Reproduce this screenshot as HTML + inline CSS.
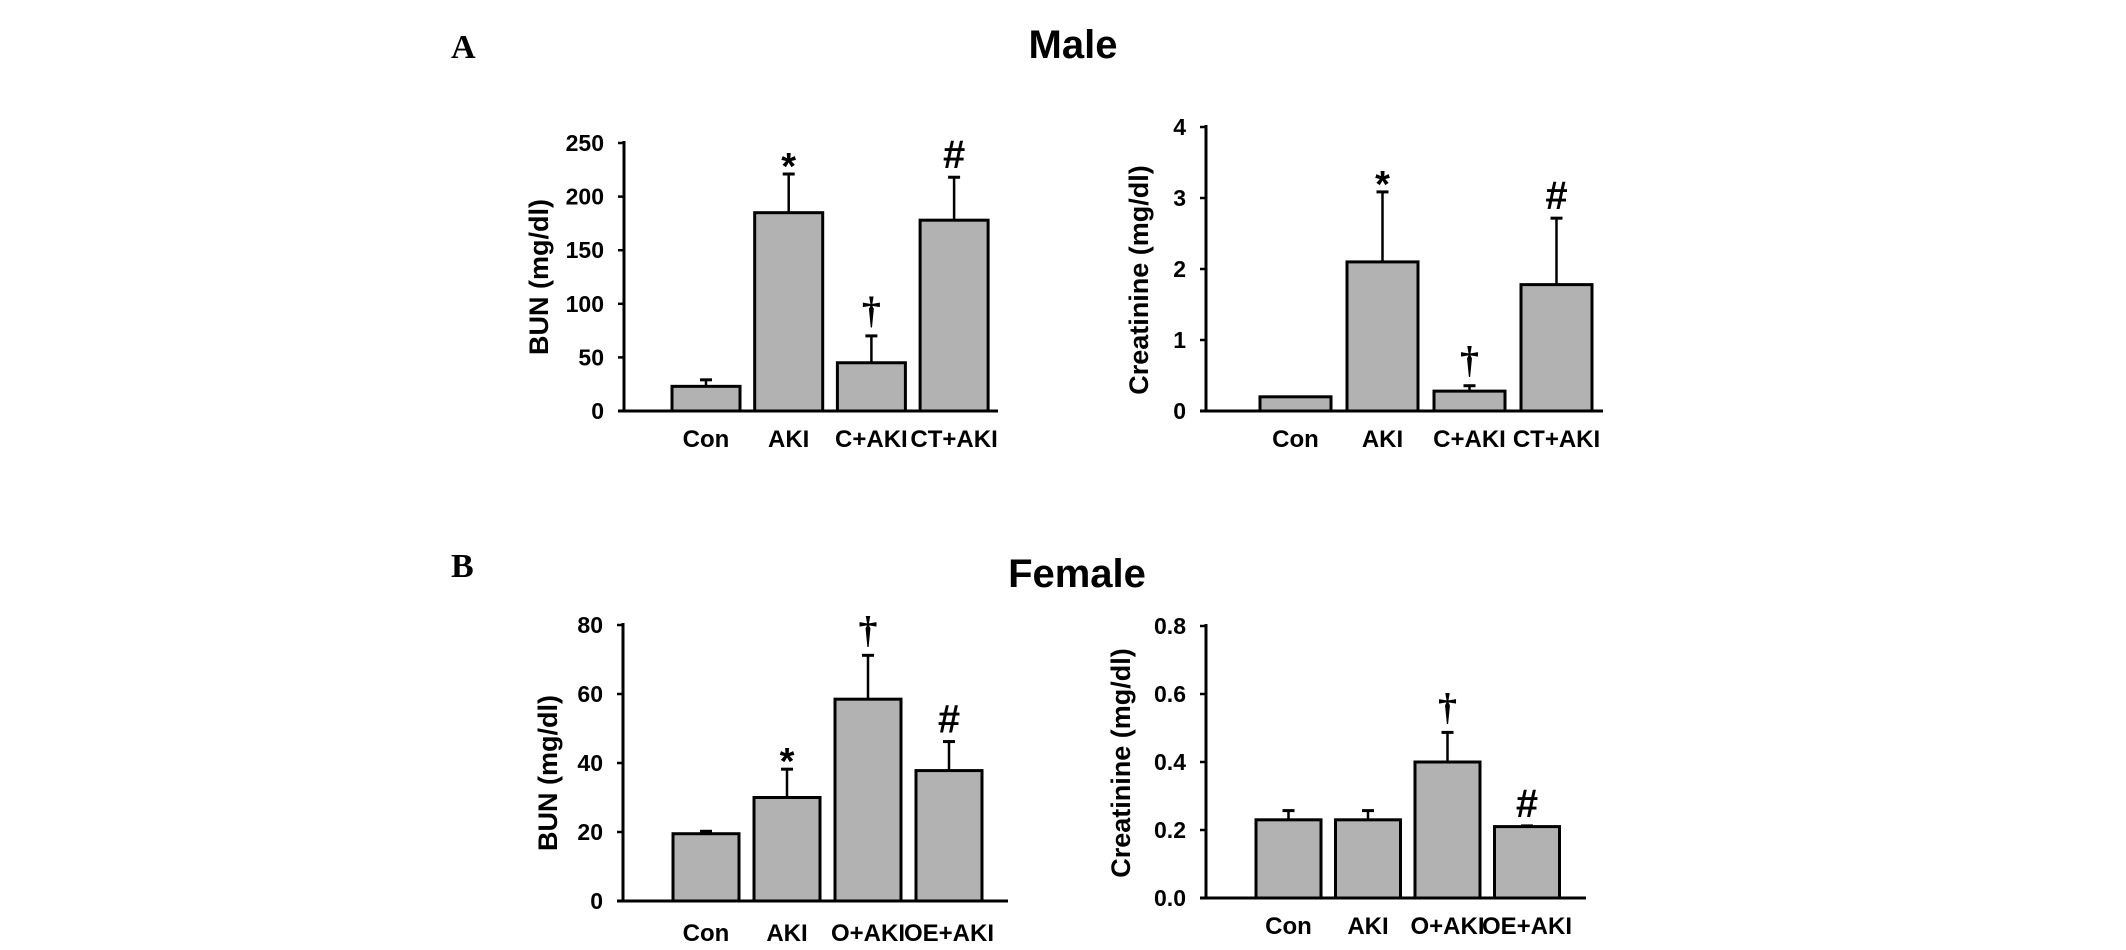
<!DOCTYPE html>
<html><head><meta charset="utf-8">
<style>
html,body{margin:0;padding:0;background:#fff;}
svg{display:block;}
text{font-family:"Liberation Sans",Arial,sans-serif;}
</style></head>
<body>
<svg id="fig" width="2126" height="950" viewBox="0 0 2126 950" xmlns="http://www.w3.org/2000/svg">
<text x="451" y="58" font-weight="bold" font-size="34" style="font-family:'Liberation Serif',serif">A</text>
<text x="1073" y="58" text-anchor="middle" font-weight="bold" font-size="40">Male</text>
<text x="451" y="577" font-weight="bold" font-size="34" style="font-family:'Liberation Serif',serif">B</text>
<text x="1077" y="587" text-anchor="middle" font-weight="bold" font-size="40">Female</text>
</svg>
<script>
// Male BUN
const maleCats = ["Con","AKI","C+AKI","CT+AKI"];
const maleBunVals = [23,185,45,178];
const maleBunErr = [30,222,71,219];
const maleBunSig = ["","*","†","#"];
const maleBunTicks = ["0","50","100","150","200","250"];
// Male creatinine
const maleCreVals = [0.2,2.1,0.28,1.78];
const maleCreErr = [0.2,3.1,0.37,2.73];
const maleCreSig = ["","*","†","#"];
const maleCreTicks = ["0","1","2","3","4"];
// Female BUN
const femCats = ["Con","AKI","O+AKI","OE+AKI"];
const femBunVals = [19.5,30,58.5,37.8];
const femBunErr = [20.5,38.5,71.5,46.5];
const femBunSig = ["","*","†","#"];
const femBunTicks = ["0","20","40","60","80"];
// Female creatinine
const femCreVals = [0.23,0.23,0.40,0.21];
const femCreErr = [0.26,0.26,0.49,0.215];
const femCreSig = ["","","†","#"];
const femCreTicks = ["0.0","0.2","0.4","0.6","0.8"];

const NS="http://www.w3.org/2000/svg";
const svg=document.getElementById('fig');
function mk(tag,attrs){const e=document.createElementNS(NS,tag);for(const k in attrs)e.setAttribute(k,attrs[k]);return e;}

function chart(id,cfg,cats,vals,errs,sigs,ticks){
  const g=mk('g',{});
  
  
  svg.appendChild(g);
  const tv=ticks.map(Number);
  const ymax=tv[tv.length-1], ymin=tv[0];
  const y=v=>cfg.y0-(v-ymin)/(ymax-ymin)*(cfg.y0-cfg.yTop);
  const x=i=>cfg.b0+i*cfg.step;
  const ya=mk('line',{x1:cfg.ax,y1:cfg.yTop-2,x2:cfg.ax,y2:cfg.y0,stroke:'#000','stroke-width':3});
  
  
  g.appendChild(ya);
  const xa=mk('line',{x1:cfg.ax-6,y1:cfg.y0,x2:cfg.xEnd,y2:cfg.y0,stroke:'#000','stroke-width':3});
  
  
  g.appendChild(xa);
  ticks.forEach((t,i)=>{
    const ty=y(tv[i]);
    const tk=mk('line',{x1:cfg.ax-6,y1:ty,x2:cfg.ax,y2:ty,stroke:'#000','stroke-width':2.5});
    
    
    g.appendChild(tk);
    const tl=mk('text',{x:cfg.ax-20,y:ty+8,'text-anchor':'end','font-size':23,'font-weight':'bold'});
    tl.textContent=t;
    
    
    g.appendChild(tl);
  });
  const yt=mk('text',{x:cfg.tx,y:cfg.ty,'text-anchor':'middle','font-size':27,'font-weight':'bold',transform:`rotate(-90 ${cfg.tx} ${cfg.ty})`});
  yt.textContent=cfg.title;
  
  
  g.appendChild(yt);
  cats.forEach((c,i)=>{
    const bx=x(i), top=y(vals[i]), et=y(errs[i]), cx=bx+cfg.bw/2;
    if(errs[i]>vals[i]){
      const el=mk('line',{x1:cx,y1:et,x2:cx,y2:top,stroke:'#000','stroke-width':2.5});
      
      
      g.appendChild(el);
      const ec=mk('line',{x1:cx-6,y1:et+1,x2:cx+6,y2:et+1,stroke:'#000','stroke-width':3});
      
      
      g.appendChild(ec);
    }
    const r=mk('rect',{x:bx,y:top,width:cfg.bw,height:cfg.y0-top,fill:'#b2b2b2',stroke:'#000','stroke-width':3});
    
    
    g.appendChild(r);
    const cl=mk('text',{x:cx,y:cfg.ly,'text-anchor':'middle','font-size':24,'font-weight':'bold'});
    cl.textContent=c;
    
    
    g.appendChild(cl);
    const s=sigs[i];
    if(s){
      let st;
      if(s==='*') st=mk('text',{x:cx,y:et+6,'text-anchor':'middle','font-size':38,'font-weight':'bold'});
      else if(s==='#') st=mk('text',{x:cx,y:et-8,'text-anchor':'middle','font-size':40,'font-weight':'bold',style:"font-family:'Liberation Sans',sans-serif"});
      else st=mk('text',{x:cx,y:et-12,'text-anchor':'middle','font-size':38,'font-weight':'bold',style:"font-family:'Liberation Serif',serif"});
      st.textContent=s;
      
      
      g.appendChild(st);
    }
  });
}
chart('chart-male-bun',{ax:624,yTop:143,y0:411,xEnd:998,b0:672,step:82.7,bw:68,ly:447,tx:548,ty:277,title:'BUN (mg/dl)'},maleCats,maleBunVals,maleBunErr,maleBunSig,maleBunTicks);
chart('chart-male-creatinine',{ax:1206,yTop:127,y0:411,xEnd:1603,b0:1260,step:87,bw:71,ly:447,tx:1148,ty:280,title:'Creatinine (mg/dl)'},maleCats,maleCreVals,maleCreErr,maleCreSig,maleCreTicks);
chart('chart-female-bun',{ax:623,yTop:625,y0:901,xEnd:1008,b0:673,step:81,bw:66,ly:941,tx:557,ty:773,title:'BUN (mg/dl)'},femCats,femBunVals,femBunErr,femBunSig,femBunTicks);
chart('chart-female-creatinine',{ax:1206,yTop:626,y0:898,xEnd:1586,b0:1256,step:79.5,bw:65,ly:934,tx:1130,ty:763,title:'Creatinine (mg/dl)'},femCats,femCreVals,femCreErr,femCreSig,femCreTicks);
</script>
</body></html>
